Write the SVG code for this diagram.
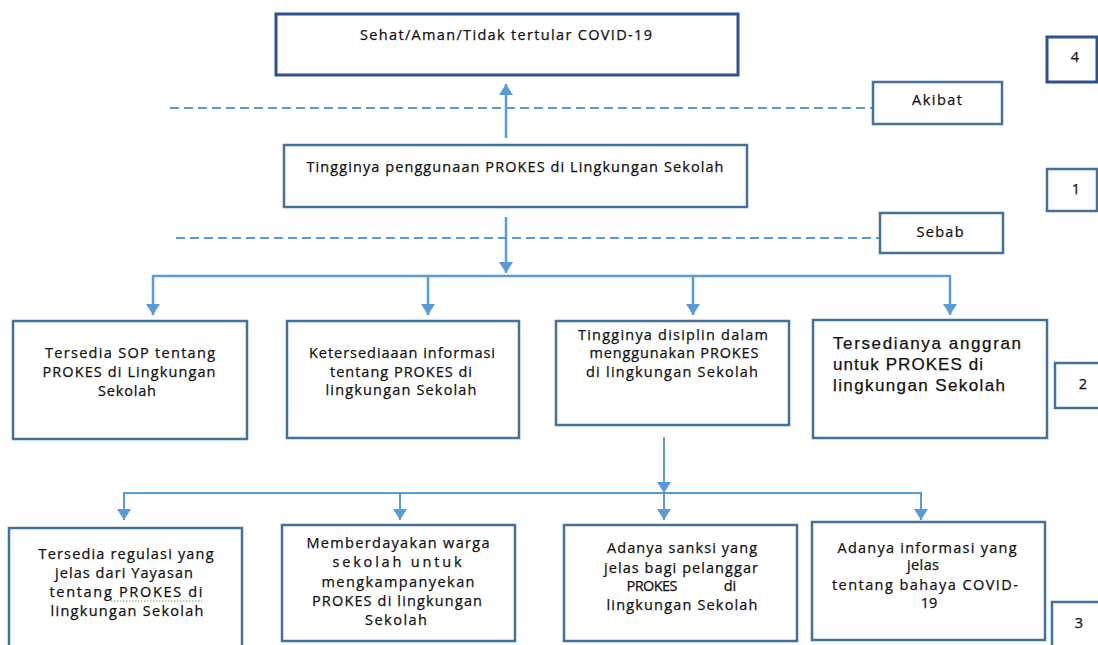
<svg xmlns="http://www.w3.org/2000/svg" width="1098" height="645" viewBox="0 0 1098 645">
<style>
.box{fill:#fff;stroke:#41719C;stroke-width:2.5}
.dark{stroke:#2F528F;stroke-width:3}
.t{font-family:"Open Sans","Liberation Sans",sans-serif;font-size:14.5px;fill:#111;stroke:#111;stroke-width:0.25;text-anchor:middle}
.tl{text-anchor:start}
.big{font-family:"Liberation Sans","Open Sans",sans-serif;font-size:17px}
.con{fill:none;stroke:#5B9BD5;stroke-width:2.5}
.thin{stroke-width:2}
.dash{fill:none;stroke:#5B9BD5;stroke-width:2;stroke-dasharray:9 5}
</style>
<defs>
<marker id="ah" markerUnits="userSpaceOnUse" viewBox="0 0 11 14" refX="11" refY="7" markerWidth="11" markerHeight="14" orient="auto">
<path d="M0,0 L11,7 L0,14 Z" fill="#5B9BD5"/>
</marker>
</defs>
<rect width="1098" height="645" fill="#fff"/>

<g id="connectors">
<line class="dash" x1="170" y1="108" x2="873" y2="108"/>
<line class="dash" x1="176" y1="238" x2="880" y2="238"/>
<line class="con" x1="506" y1="138" x2="506" y2="84" marker-end="url(#ah)"/>
<line class="con" x1="506" y1="217" x2="506" y2="273" marker-end="url(#ah)"/>
<polyline class="con" points="153,276 950,276"/>
<line class="con" x1="153" y1="275" x2="153" y2="315" marker-end="url(#ah)"/>
<line class="con" x1="428" y1="276" x2="428" y2="315" marker-end="url(#ah)"/>
<line class="con" x1="693" y1="276" x2="693" y2="315" marker-end="url(#ah)"/>
<line class="con" x1="950" y1="275" x2="950" y2="315" marker-end="url(#ah)"/>
<line class="con thin" x1="664" y1="437" x2="664" y2="493" marker-end="url(#ah)"/>
<polyline class="con thin" points="124,493 921,493"/>
<line class="con thin" x1="124" y1="492" x2="124" y2="520" marker-end="url(#ah)"/>
<line class="con thin" x1="400" y1="493" x2="400" y2="520" marker-end="url(#ah)"/>
<line class="con thin" x1="664" y1="493" x2="664" y2="520" marker-end="url(#ah)"/>
<line class="con thin" x1="921" y1="492" x2="921" y2="520" marker-end="url(#ah)"/>
</g>

<g id="n-akibat-top">
<rect class="box dark" x="276" y="14" width="462" height="61"/>
<text class="t" x="506" y="40" textLength="292" lengthAdjust="spacing">Sehat/Aman/Tidak tertular COVID-19</text>
</g>

<g id="n-masalah">
<rect class="box" x="284" y="145" width="463" height="62"/>
<text class="t" x="515" y="172" textLength="417" lengthAdjust="spacing">Tingginya penggunaan PROKES di Lingkungan Sekolah</text>
</g>

<g id="n-akibat-label">
<rect class="box" x="873" y="82" width="129" height="42"/>
<text class="t" x="937" y="105" textLength="50" lengthAdjust="spacing">Akibat</text>
</g>

<g id="n-sebab-label">
<rect class="box" x="880" y="213" width="123" height="40"/>
<text class="t" x="940" y="237" textLength="47" lengthAdjust="spacing">Sebab</text>
</g>

<g id="n-4">
<rect class="box dark" x="1047" y="37" width="50" height="45"/>
<text class="t" x="1075" y="62">4</text>
</g>

<g id="n-1">
<rect class="box" x="1047" y="169" width="50" height="42"/>
<text class="t" x="1076" y="194">1</text>
</g>

<g id="n-2">
<rect class="box" x="1055" y="363" width="50" height="45"/>
<text class="t" x="1083" y="389">2</text>
</g>

<g id="n-3">
<rect class="box" x="1052" y="602" width="55" height="50"/>
<text class="t" x="1079" y="628">3</text>
</g>

<g id="n-sop">
<rect class="box" x="13" y="321" width="234" height="118"/>
<text class="t" x="130" y="358" textLength="170" lengthAdjust="spacing">Tersedia SOP tentang</text>
<text class="t" x="129" y="377" textLength="173" lengthAdjust="spacing">PROKES di Lingkungan</text>
<text class="t" x="127" y="396" textLength="58" lengthAdjust="spacing">Sekolah</text>
</g>

<g id="n-informasi">
<rect class="box" x="287" y="321" width="232" height="117"/>
<text class="t" x="402" y="358" textLength="186" lengthAdjust="spacing">Ketersediaaan informasi</text>
<text class="t" x="401" y="377" textLength="142" lengthAdjust="spacing">tentang PROKES di</text>
<text class="t" x="401" y="395" textLength="151" lengthAdjust="spacing">lingkungan Sekolah</text>
</g>

<g id="n-disiplin">
<rect class="box" x="556" y="321" width="233" height="104"/>
<text class="t" x="673" y="340" textLength="190" lengthAdjust="spacing">Tingginya disiplin dalam</text>
<text class="t" x="674" y="358" textLength="169" lengthAdjust="spacing">menggunakan PROKES</text>
<text class="t" x="672" y="377" textLength="172" lengthAdjust="spacing">di lingkungan Sekolah</text>
</g>

<g id="n-anggaran">
<rect class="box" x="813" y="320" width="234" height="118"/>
<text class="t tl big" x="833" y="349" textLength="188" lengthAdjust="spacing">Tersedianya anggran</text>
<text class="t tl big" x="833" y="370" textLength="150" lengthAdjust="spacing">untuk PROKES di</text>
<text class="t tl big" x="833" y="391" textLength="172" lengthAdjust="spacing">lingkungan Sekolah</text>
</g>

<g id="n-regulasi">
<rect class="box" x="9" y="528" width="233" height="130"/>
<text class="t" x="126" y="559" textLength="175" lengthAdjust="spacing">Tersedia regulasi yang</text>
<text class="t" x="124" y="578" textLength="138" lengthAdjust="spacing">jelas dari Yayasan</text>
<text class="t" x="126" y="597" textLength="153" lengthAdjust="spacing">tentang PROKES  di</text>
<path d="M111,601 h91" fill="none" stroke="#4CAF50" stroke-width="1" stroke-dasharray="1.5 1.5"/>
<text class="t" x="127" y="616" textLength="153" lengthAdjust="spacing">lingkungan Sekolah</text>
</g>

<g id="n-memberdayakan">
<rect class="box" x="282" y="525" width="233" height="116"/>
<text class="t" x="398" y="548" textLength="183" lengthAdjust="spacing">Memberdayakan warga</text>
<text class="t" x="397" y="567" textLength="129" lengthAdjust="spacing">sekolah untuk</text>
<text class="t" x="398" y="587" textLength="153" lengthAdjust="spacing">mengkampanyekan</text>
<text class="t" x="397" y="606" textLength="170" lengthAdjust="spacing">PROKES di lingkungan</text>
<text class="t" x="396" y="625" textLength="62" lengthAdjust="spacing">Sekolah</text>
</g>

<g id="n-sanksi">
<rect class="box" x="564" y="525" width="233" height="116"/>
<text class="t" x="682" y="553" textLength="150" lengthAdjust="spacing">Adanya sanksi yang</text>
<text class="t" x="681" y="573" textLength="154" lengthAdjust="spacing">jelas bagi pelanggar</text>
<text class="t" x="652" y="591" textLength="51" lengthAdjust="spacing">PROKES</text>
<text class="t" x="730" y="591">di</text>
<text class="t" x="682" y="610" textLength="151" lengthAdjust="spacing">lingkungan Sekolah</text>
</g>

<g id="n-bahaya">
<rect class="box" x="812" y="522" width="233" height="118"/>
<text class="t" x="927" y="553" textLength="179" lengthAdjust="spacing">Adanya informasi yang</text>
<text class="t" x="923" y="570" textLength="32" lengthAdjust="spacing">jelas</text>
<text class="t" x="925" y="590" textLength="186" lengthAdjust="spacing">tentang bahaya COVID-</text>
<text class="t" x="929" y="608">19</text>
</g>
</svg>
